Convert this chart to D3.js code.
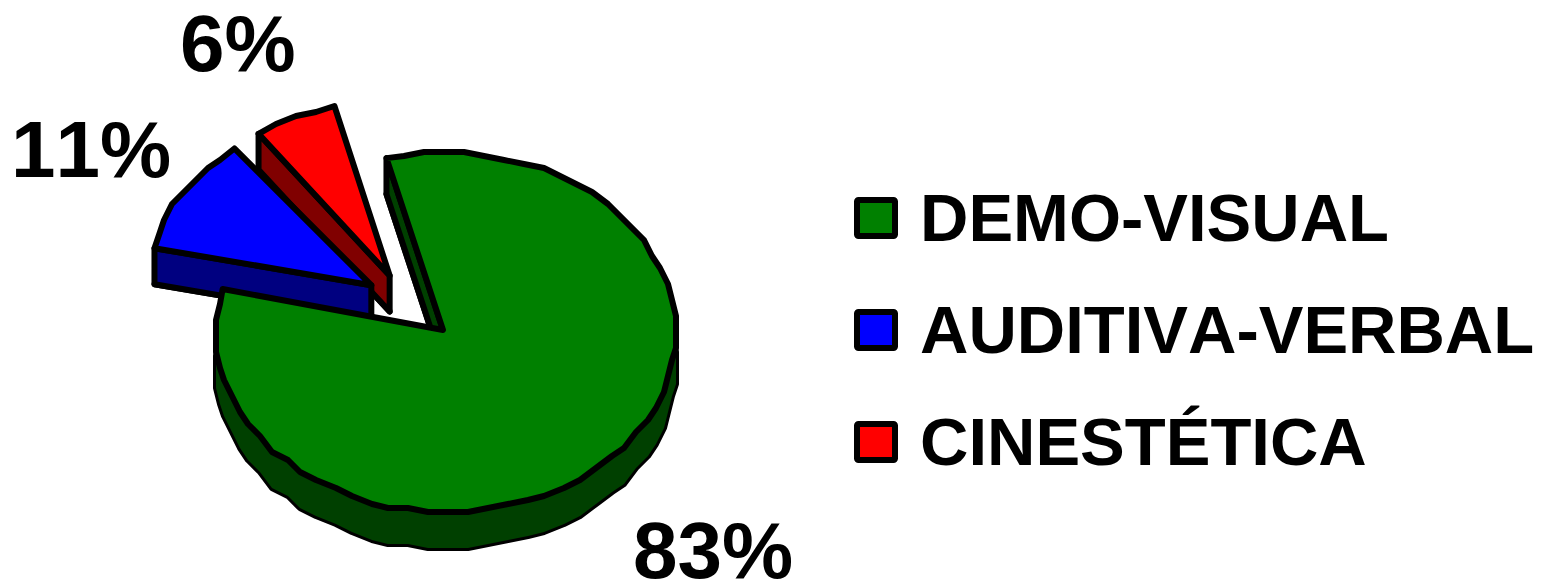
<!DOCTYPE html>
<html>
<head>
<meta charset="utf-8">
<script src="https://cdn.jsdelivr.net/npm/d3@7"></script>
<style>
  html, body { margin: 0; padding: 0; background: #fff; }
  text { font-family: "Liberation Sans", Arial, sans-serif; font-weight: bold; fill: #000; font-kerning: none; }
</style>
</head>
<body>
<div class="chart"></div>
<script>
/// Chart data
var categories = ["DEMO-VISUAL", "AUDITIVA-VERBAL", "CINESTÉTICA"];
var shares = [83, 11, 6];
var topColors = ["#008000", "#0000ff", "#ff0000"];
var sideColors = ["#004000", "#000080", "#800000"];

/// SVG wrapper dimensions
var svgWidth = 1542;
var svgHeight = 582;

/// Pie geometry
var centerX = 446, centerY = 332;
var radiusX = 230, radiusY = 180;
var depth = 36;
var snap = 4;
var toRad = Math.PI / 180;
var explode = [0, 0.416, 0.398];
var explodeAngle = [0, 308.7, 322];
var sliceRadius = [1, 0.965, 0.972];
var sliceTilt = [0, -1.5, 0.7];
var greenApexNudge = [-3, -2];

var svg = d3.select(".chart").append("svg")
    .attr("width", svgWidth)
    .attr("height", svgHeight)
    .style("display", "block");

var xScale = d3.scaleLinear().domain([-1, 1]).range([centerX - radiusX, centerX + radiusX]);
var yScale = d3.scaleLinear().domain([-1, 1]).range([centerY - radiusY, centerY + radiusY]);

var pie = d3.pie().sort(null)
    .startAngle(-15 * toRad)
    .endAngle(345 * toRad);
var arcs = pie(shares);

var line = d3.line().curve(d3.curveLinear);

function project(angle, r, off, drop) {
    var p = d3.pointRadial(angle, r);
    return [xScale(p[0] + off[0]), yScale(p[1] + off[1]) + drop];
}

// the original pie is a coarse polygon, so rim points sit on a rough grid
function rim(a0, a1, r, off, drop) {
    var n = Math.max(2, Math.round((a1 - a0) / (5 * toRad)));
    return d3.range(n + 1).map(function(i) {
        var p = project(a0 + (a1 - a0) * i / n, r, off, drop);
        if (i === 0 || i === n) return p;
        return [Math.round(p[0] / snap) * snap, Math.round((p[1] - drop) / snap) * snap + drop];
    });
}

function drawPoly(points, fill) {
    svg.append("path")
        .attr("d", line(points) + "Z")
        .attr("fill", fill)
        .attr("stroke", "#000")
        .attr("stroke-width", 6)
        .attr("stroke-linejoin", "round");
}

/// Draw back to front: red, blue, then the big green slice
[2, 1, 0].forEach(function(i) {
    var d = arcs[i];
    var off = d3.pointRadial(explodeAngle[i] * toRad, explode[i]);
    var r = sliceRadius[i];
    var a0 = d.startAngle + sliceTilt[i] * toRad;
    var a1 = d.endAngle + sliceTilt[i] * toRad;
    var apex = project(0, 0, off, 0);
    var apexLow = project(0, 0, off, depth);
    if (i === 0) {
        apex = [apex[0] + greenApexNudge[0], apex[1] + greenApexNudge[1]];
        apexLow = [apexLow[0] + greenApexNudge[0], apexLow[1] + greenApexNudge[1]];
    }
    var top = rim(a0, a1, r, off, 0);
    var low = rim(a0, a1, r, off, depth);

    // bottom of the slice, then the cut face
    drawPoly([apexLow].concat(low), sideColors[i]);
    drawPoly([apex, top[0], low[0], apexLow], sideColors[i]);

    // outer wall on the part of the rim that faces the viewer
    top.forEach(function(p, k) {
        if (k === 0) return;
        if (p[1] >= centerY) {
            svg.append("path")
                .attr("d", line([top[k - 1], p, low[k], low[k - 1]]) + "Z")
                .attr("fill", sideColors[i]);
        }
    });
    drawPoly([apex].concat(top), topColors[i]);
});

/// Percent labels
var labelAnchors = [[633, 578], [11, 177], [180, 71]];
svg.selectAll(".pct")
    .data(shares)
    .enter()
    .append("text")
    .attr("class", "pct")
    .attr("x", function(d, i) { return labelAnchors[i][0]; })
    .attr("y", function(d, i) { return labelAnchors[i][1]; })
    .attr("font-size", 80)
    .text(function(d) { return d + "%"; });

/// Legend
var legendY = d3.scalePoint().domain(categories).range([218, 442]);
var legend = svg.selectAll(".legend")
    .data(categories)
    .enter()
    .append("g")
    .attr("class", "legend")
    .attr("transform", function(d) { return "translate(0," + legendY(d) + ")"; });

legend.append("rect")
    .attr("x", 857)
    .attr("y", -18)
    .attr("width", 38)
    .attr("height", 36)
    .attr("rx", 1.5)
    .attr("fill", function(d, i) { return topColors[i]; })
    .attr("stroke", "#000")
    .attr("stroke-width", 6)
    .attr("stroke-linejoin", "round");

legend.append("text")
    .attr("x", 920)
    .attr("y", 23)
    .attr("font-size", 67)
    .text(function(d) { return d; });
</script>
</body>
</html>
